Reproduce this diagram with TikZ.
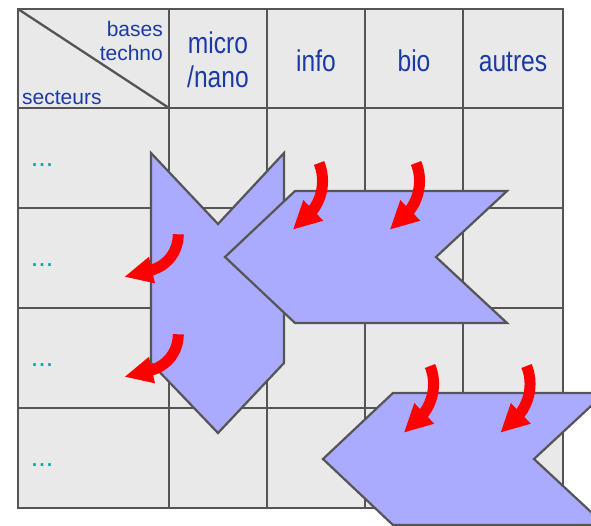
\documentclass[tikz,border=0pt]{standalone}
\usepackage{fontspec}
\setmainfont{Liberation Sans}
\newfontfamily\narrowfont[FakeStretch=0.82]{Liberation Sans}
\definecolor{gridfill}{RGB}{233,233,233}
\definecolor{gridline}{RGB}{85,85,85}
\definecolor{labelblue}{RGB}{28,58,165}
\definecolor{dotteal}{RGB}{20,160,160}
\definecolor{chevronfill}{RGB}{170,170,255}
\tikzset{
  gridlines/.style={draw=gridline, line width=2.3pt},
  chevron/.style={draw=gridline, line width=2.2pt, fill=chevronfill, line join=miter},
  headlabel/.style={text=labelblue, inner sep=0pt, anchor=base, font=\narrowfont\fontsize{30}{34}\selectfont},
  cornerlabel/.style={text=labelblue, inner sep=0pt, font=\fontsize{21}{24}\selectfont},
  rowdots/.style={text=dotteal, inner sep=0pt, anchor=base west, font=\fontsize{27}{30}\selectfont},
  flowshaft/.style={draw=red, line width=11pt},
  flowhead/.style={fill=red},
  % curved red arrow bending down and to the left
  pics/benddown/.style={code={
    \draw[flowshaft] (0,0) .. controls (6,14) and (5,34) .. (-7.9,49.4);
    \fill[flowhead] (-15.7,37) -- (-25.7,66.3) -- (4.3,57.7) -- cycle;
  }},
  % curved red arrow bending towards the left
  pics/bendleft/.style={code={
    \draw[flowshaft] (0,0) .. controls (0,16) and (-10,32) .. (-29.2,36.4);
    \fill[flowhead] (-29.3,22.4) -- (-53.3,42.4) -- (-23.3,49) -- cycle;
  }},
}
\begin{document}
\begin{tikzpicture}[x=1pt,y=-1pt]
\useasboundingbox (0,0) rectangle (591,525);
\clip (0,0) rectangle (591,525);

% table background and rules
\fill[gridfill] (18,9) rectangle (563,508);
\foreach \x in {169,267,365,463}
  \draw[gridlines] (\x,9) -- (\x,508);
\foreach \y in {108,208,308,408}
  \draw[gridlines] (18,\y) -- (563,\y);
\draw[gridlines] (18,9) rectangle (563,508);
\draw[gridlines] (18,9) -- (169,108);

% header labels
\node[cornerlabel, anchor=base east] (bases) at (163,36.7) {bases};
\node[cornerlabel, anchor=base east] (techno) at (163,60) {techno};
\node[cornerlabel, anchor=base west] (secteurs) at (22,104.5) {secteurs};
\node[headlabel] (micro) at (218,53) {micro};
\node[headlabel] (nano) at (218,87) {/nano};
\node[headlabel] (info) at (316,71) {info};
\node[headlabel] (bio) at (414,71) {bio};
\node[headlabel] (autres) at (513,71) {autres};

% row labels
\node[rowdots] (row1) at (30.6,166.6) {...};
\node[rowdots] (row2) at (30.6,266.6) {...};
\node[rowdots] (row3) at (30.6,366.6) {...};
\node[rowdots] (row4) at (30.6,466.6) {...};

% chevrons
\draw[chevron] (151,153) -- (218,224) -- (284,153) -- (284,363) -- (218,433) -- (151,363) -- cycle;
\draw[chevron] (225,257) -- (295,191) -- (507,191) -- (436,257) -- (507,323) -- (295,323) -- cycle;
\draw[chevron] (323,459) -- (393,393) -- (605,393) -- (534,459) -- (605,525) -- (393,525) -- cycle;

% red flow arrows
\coordinate (f1) at (319,163);
\coordinate (f2) at (416,163);
\coordinate (f3) at (178.3,234.3);
\coordinate (f4) at (178.3,334.3);
\coordinate (f5) at (430,366);
\coordinate (f6) at (526.5,366);
\pic at (f1) {benddown};
\pic at (f2) {benddown};
\pic at (f3) {bendleft};
\pic at (f4) {bendleft};
\pic at (f5) {benddown};
\pic at (f6) {benddown};
\end{tikzpicture}
\end{document}
